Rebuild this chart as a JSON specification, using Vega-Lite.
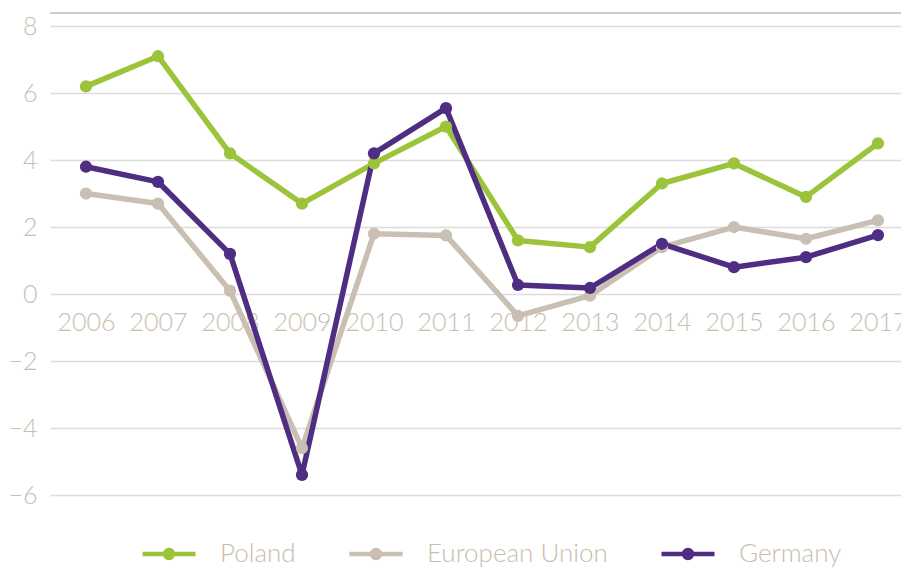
{
  "$schema": "https://vega.github.io/schema/vega-lite/v6.json",
  "width": 851,
  "height": 482,
  "autosize": {"type": "none"},
  "padding": {"left": 50, "top": 13, "right": 5, "bottom": 72},
  "background": "white",
  "config": {
    "view": {"stroke": null},
    "font": "Lato",
    "axis": {"labelFont": "Lato", "labelColor": "#c9bdad", "labelFontSize": 25, "labelFontWeight": 300}
  },
  "datasets": {
    "series": [
      {"year": 2006, "country": "Poland", "value": 6.2},
      {"year": 2007, "country": "Poland", "value": 7.1},
      {"year": 2008, "country": "Poland", "value": 4.2},
      {"year": 2009, "country": "Poland", "value": 2.7},
      {"year": 2010, "country": "Poland", "value": 3.9},
      {"year": 2011, "country": "Poland", "value": 5.0},
      {"year": 2012, "country": "Poland", "value": 1.6},
      {"year": 2013, "country": "Poland", "value": 1.4},
      {"year": 2014, "country": "Poland", "value": 3.3},
      {"year": 2015, "country": "Poland", "value": 3.9},
      {"year": 2016, "country": "Poland", "value": 2.9},
      {"year": 2017, "country": "Poland", "value": 4.5},
      {"year": 2006, "country": "European Union", "value": 3.0},
      {"year": 2007, "country": "European Union", "value": 2.7},
      {"year": 2008, "country": "European Union", "value": 0.1},
      {"year": 2009, "country": "European Union", "value": -4.6},
      {"year": 2010, "country": "European Union", "value": 1.8},
      {"year": 2011, "country": "European Union", "value": 1.75},
      {"year": 2012, "country": "European Union", "value": -0.65},
      {"year": 2013, "country": "European Union", "value": -0.05},
      {"year": 2014, "country": "European Union", "value": 1.4},
      {"year": 2015, "country": "European Union", "value": 2.0},
      {"year": 2016, "country": "European Union", "value": 1.65},
      {"year": 2017, "country": "European Union", "value": 2.2},
      {"year": 2006, "country": "Germany", "value": 3.8},
      {"year": 2007, "country": "Germany", "value": 3.35},
      {"year": 2008, "country": "Germany", "value": 1.2},
      {"year": 2009, "country": "Germany", "value": -5.4},
      {"year": 2010, "country": "Germany", "value": 4.2},
      {"year": 2011, "country": "Germany", "value": 5.55},
      {"year": 2012, "country": "Germany", "value": 0.27},
      {"year": 2013, "country": "Germany", "value": 0.18},
      {"year": 2014, "country": "Germany", "value": 1.5},
      {"year": 2015, "country": "Germany", "value": 0.8},
      {"year": 2016, "country": "Germany", "value": 1.1},
      {"year": 2017, "country": "Germany", "value": 1.76}
    ]
  },
  "layer": [
    {
      "data": {"values": [{"top": 8.39}]},
      "mark": {"type": "rule", "color": "#9a9a9a", "strokeWidth": 1},
      "encoding": {"y": {"field": "top", "type": "quantitative"}}
    },
    {
      "data": {"name": "series"},
      "mark": {"type": "line", "strokeWidth": 5.5, "strokeJoin": "round", "strokeCap": "round", "point": {"filled": true, "size": 150, "opacity": 1}},
      "encoding": {
        "x": {
          "field": "year", "type": "quantitative",
          "scale": {"domain": [2005.5, 2017.32], "nice": false, "zero": false},
          "axis": {"title": null, "values": [2006, 2007, 2008, 2009, 2010, 2011, 2012, 2013, 2014, 2015, 2016, 2017], "format": "d", "grid": false, "domain": false, "ticks": false, "labelPadding": 16, "offset": -201, "labelBaseline": "top", "labelBound": false}
        },
        "y": {
          "field": "value", "type": "quantitative",
          "scale": {"domain": [-6, 8.39], "nice": false, "zero": false},
          "axis": {"title": null, "values": [-6, -4, -2, 0, 2, 4, 6, 8], "domain": false, "ticks": false, "labelPadding": 13, "gridColor": "#dcdcdc", "gridWidth": 1.5, "labelBaseline": "middle"}
        },
        "color": {
          "field": "country", "type": "nominal",
          "scale": {"domain": ["Poland", "European Union", "Germany"], "range": ["#9bc43b", "#c9bfb2", "#4e2d82"]},
          "legend": {
            "title": null,
            "orient": "none",
            "direction": "horizontal",
            "legendX": 90,
            "legendY": 512,
            "symbolType": "M-1,0L1,0M0.15,0A0.15,0.15,0,1,1,-0.15,0A0.15,0.15,0,1,1,0.15,0Z",
            "symbolSize": 2809,
            "symbolStrokeWidth": 4.5,
            "symbolOpacity": 1,
            "labelFont": "Lato",
            "labelFontSize": 26,
            "labelFontWeight": 300,
            "labelColor": "#c9bdad",
            "labelOffset": 22,
            "labelLimit": 400,
            "columnPadding": 44,
            "encode": {"symbols": {"update": {"fill": {"scale": "color", "field": "value"}, "stroke": {"scale": "color", "field": "value"}}}}
          }
        },
        "order": {"field": "year"}
      }
    }
  ]
}
